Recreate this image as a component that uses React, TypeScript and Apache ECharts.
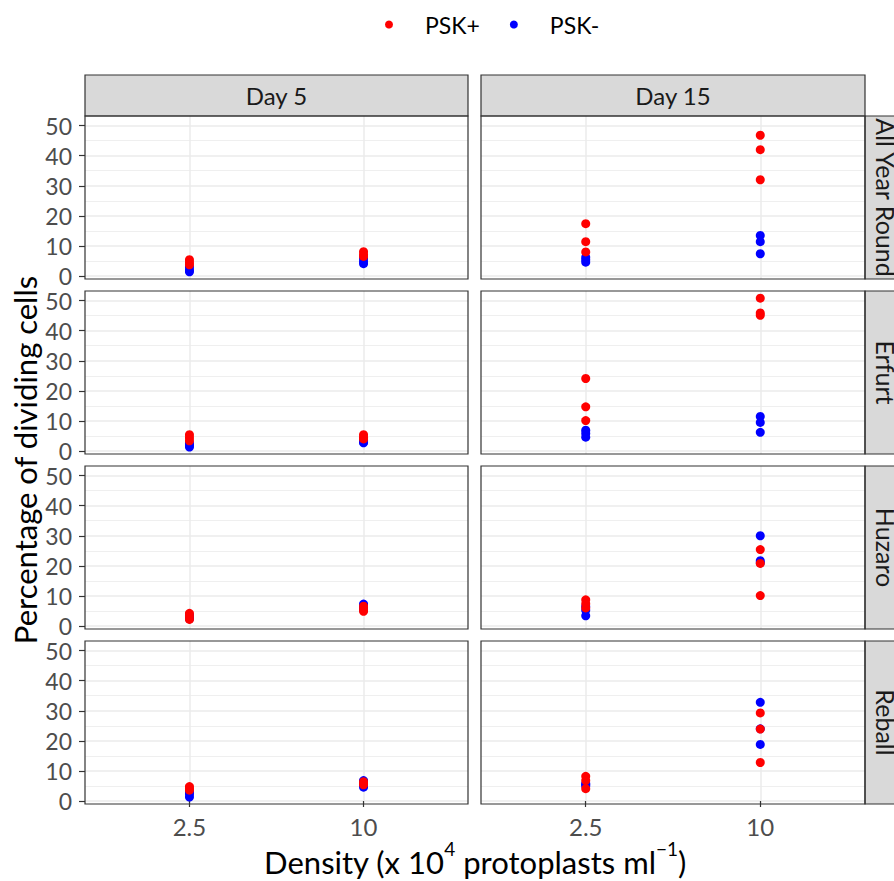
import React, { useEffect, useRef } from "react";
import * as echarts from "echarts";

// ---- data ----
const days = ["Day 5", "Day 15"];
const cultivars = ["All Year Round", "Erfurt", "Huzaro", "Reball"];
const densities = ["2.5", "10"];
const yTicks = [0, 10, 20, 30, 40, 50];
const treatments = ["PSK+", "PSK-"];

// each array: [Day5 @2.5, Day5 @10, Day15 @2.5, Day15 @10] (three replicates)
const allYearRoundPlus = [[5.4, 4.5, 3.7], [8.1, 7.1, 6.5], [17.4, 11.4, 8.0], [46.8, 42.0, 32.0]];
const allYearRoundMinus = [[3.0, 2.0, 1.4], [5.8, 4.8, 4.1], [6.2, 5.4, 4.6], [13.5, 11.4, 7.4]];
const erfurtPlus = [[5.4, 4.4, 3.4], [5.4, 4.6, 4.0], [24.1, 14.7, 10.1], [50.8, 45.9, 45.1]];
const erfurtMinus = [[2.6, 1.9, 1.3], [3.5, 3.0, 2.7], [6.9, 5.8, 4.6], [11.5, 9.5, 6.2]];
const huzaroPlus = [[4.2, 3.2, 2.2], [6.6, 5.6, 4.9], [8.7, 7.4, 6.0], [25.4, 20.8, 10.1]];
const huzaroMinus = [[3.6, 2.8, 2.4], [7.3, 6.2, 5.3], [6.5, 5.2, 3.4], [30.0, 21.7, 21.0]];
const reballPlus = [[4.8, 4.1, 3.6], [6.4, 5.8, 5.4], [8.2, 6.8, 4.1], [29.3, 23.9, 12.8]];
const reballMinus = [[3.0, 2.3, 1.3], [6.8, 5.3, 4.6], [5.8, 5.5, 5.0], [32.8, 24.0, 18.8]];

const plusByCultivar = [allYearRoundPlus, erfurtPlus, huzaroPlus, reballPlus];
const minusByCultivar = [allYearRoundMinus, erfurtMinus, huzaroMinus, reballMinus];

// ---- layout ----
const colLeft = [85, 481];
const colWidth = [383, 384];
const rowTop0 = 116;
const rowStep = 175;
const panelH = 163;
const stripTop = 75;
const stripH = 41;
const stripRightW = 41;

// discrete x with ggplot-like expansion: 12 slots, categories at slots 3 and 8
const slotCount = 12;
const densitySlots = [3, 8];
const slotLabels = Array.from({ length: slotCount }, (_, i) => {
  const k = densitySlots.indexOf(i);
  return k >= 0 ? densities[k] : "";
});
const isDensitySlot = (i: number) => densitySlots.indexOf(i) >= 0;

const FONT = "Lato, 'Noto Sans', sans-serif";

export default function App() {
  const ref = useRef<HTMLDivElement>(null);
  useEffect(() => {
    if (!ref.current) return;
    const chart = echarts.init(ref.current, null, { renderer: "svg" });

    const grids: any[] = [];
    const xAxes: any[] = [];
    const yAxes: any[] = [];
    const series: any[] = [];
    const graphics: any[] = [];

    cultivars.forEach((cv, r) => {
      days.forEach((day, c) => {
        const idx = r * 2 + c;
        const top = rowTop0 + r * rowStep;
        grids.push({
          left: colLeft[c],
          top,
          width: colWidth[c],
          height: panelH,
          show: true,
          backgroundColor: "#FFFFFF",
          borderWidth: 0,
        });
        xAxes.push({
          type: "category",
          gridIndex: idx,
          data: slotLabels,
          boundaryGap: false,
          axisLine: { show: false },
          axisTick: {
            show: r === cultivars.length - 1,
            length: 6,
            interval: (i: number) => isDensitySlot(i),
            lineStyle: { color: "#333333", width: 1.2 },
          },
          axisLabel: {
            show: r === cultivars.length - 1,
            interval: (i: number) => isDensitySlot(i),
            margin: 10,
            fontSize: 24,
            fontFamily: FONT,
            color: "#4D4D4D",
          },
          splitLine: {
            show: true,
            interval: (i: number) => isDensitySlot(i),
            lineStyle: { color: "#EBEBEB", width: 1.5 },
          },
        });
        yAxes.push({
          type: "value",
          gridIndex: idx,
          min: -1,
          max: 53.2,
          splitNumber: 5,
          axisLine: { show: false },
          axisTick: {
            show: c === 0,
            length: 6,
            customValues: yTicks,
            lineStyle: { color: "#333333", width: 1.2 },
          },
          axisLabel: {
            show: c === 0,
            customValues: yTicks,
            margin: 13,
            fontSize: 23,
            lineHeight: 19,
            fontFamily: FONT,
            color: "#4D4D4D",
            formatter: (v: number) => (yTicks.indexOf(v) >= 0 ? String(v) : ""),
          },
          splitLine: { show: true, lineStyle: { color: "#EBEBEB", width: 1.5 } },
          minorTick: { show: false, splitNumber: 2 },
          minorSplitLine: { show: true, lineStyle: { color: "#EBEBEB", width: 0.8 } },
        });

        const groupIdx = [c * 2, c * 2 + 1];
        const build = (vals: number[][]) => {
          const out: number[][] = [];
          groupIdx.forEach((g, k) => {
            vals[g].forEach((v) => out.push([densitySlots[k], v]));
          });
          return out;
        };
        series.push({
          type: "scatter",
          name: treatments[1],
          xAxisIndex: idx,
          yAxisIndex: idx,
          symbolSize: 9,
          itemStyle: { color: "#0000FF", opacity: 1 },
          data: build(minusByCultivar[r]),
          z: 3,
        });
        series.push({
          type: "scatter",
          name: treatments[0],
          xAxisIndex: idx,
          yAxisIndex: idx,
          symbolSize: 9,
          itemStyle: { color: "#FF0000", opacity: 1 },
          data: build(plusByCultivar[r]),
          z: 4,
        });

        // panel border
        graphics.push({
          type: "rect",
          shape: { x: colLeft[c], y: top, width: colWidth[c], height: panelH },
          style: { fill: "none", stroke: "#333333", lineWidth: 1.2 },
          z: 100,
          silent: true,
        });
      });

      // right strip
      const top = rowTop0 + r * rowStep;
      const sx = colLeft[1] + colWidth[1];
      graphics.push({
        type: "rect",
        shape: { x: sx, y: top, width: stripRightW, height: panelH },
        style: { fill: "#D9D9D9", stroke: "#333333", lineWidth: 1.2 },
        z: 90,
        silent: true,
      });
      graphics.push({
        type: "text",
        x: sx + stripRightW / 2,
        y: top + panelH / 2,
        rotation: -Math.PI / 2,
        style: {
          text: cv,
          fontSize: 25,
          fontFamily: FONT,
          fill: "#1A1A1A",
          align: "center",
          verticalAlign: "middle",
        },
        z: 101,
        silent: true,
      });
    });

    // top strips
    days.forEach((day, c) => {
      graphics.push({
        type: "rect",
        shape: { x: colLeft[c], y: stripTop, width: colWidth[c], height: stripH },
        style: { fill: "#D9D9D9", stroke: "#333333", lineWidth: 1.2 },
        z: 90,
        silent: true,
      });
      graphics.push({
        type: "text",
        x: colLeft[c] + colWidth[c] / 2,
        y: stripTop + stripH / 2,
        style: {
          text: day,
          fontSize: 24,
          fontFamily: FONT,
          fill: "#1A1A1A",
          align: "center",
          verticalAlign: "middle",
        },
        z: 101,
        silent: true,
      });
    });

    // axis titles
    const plotMidY = rowTop0 + ((cultivars.length - 1) * rowStep + panelH) / 2;
    graphics.push({
      type: "text",
      x: 25,
      y: plotMidY,
      rotation: Math.PI / 2,
      style: {
        text: "Percentage of dividing cells",
        fontSize: 31,
        fontFamily: FONT,
        fill: "#000000",
        align: "center",
        verticalAlign: "middle",
      },
      z: 101,
      silent: true,
    });
    graphics.push({
      type: "text",
      x: (colLeft[0] + colLeft[1] + colWidth[1]) / 2,
      y: 858,
      style: {
        text: "{a|Density (x 10}{s|4}{a| protoplasts ml}{s|\u22121}{a|)}",
        align: "center",
        verticalAlign: "middle",
        rich: {
          a: { fontSize: 31, fontFamily: FONT, fill: "#000000", lineHeight: 38, verticalAlign: "bottom" },
          s: { fontSize: 19, fontFamily: FONT, fill: "#000000", lineHeight: 22, verticalAlign: "top" },
        },
      },
      z: 101,
      silent: true,
    });

    chart.setOption({
      animation: false,
      backgroundColor: "#FFFFFF",
      legend: {
        top: 8,
        left: 380,
        data: treatments,
        icon: "circle",
        itemWidth: 8,
        itemHeight: 8,
        itemGap: 30,
        selectedMode: false,
        textStyle: { fontSize: 23, fontFamily: FONT, color: "#000000", padding: [0, 0, 0, 27] },
      },
      grid: grids,
      xAxis: xAxes,
      yAxis: yAxes,
      series,
      graphic: graphics,
    });

    return () => chart.dispose();
  }, []);

  return (
    <div
      ref={ref}
      style={{ position: "absolute", left: 0, top: 0, width: 894, height: 881 }}
    />
  );
}
